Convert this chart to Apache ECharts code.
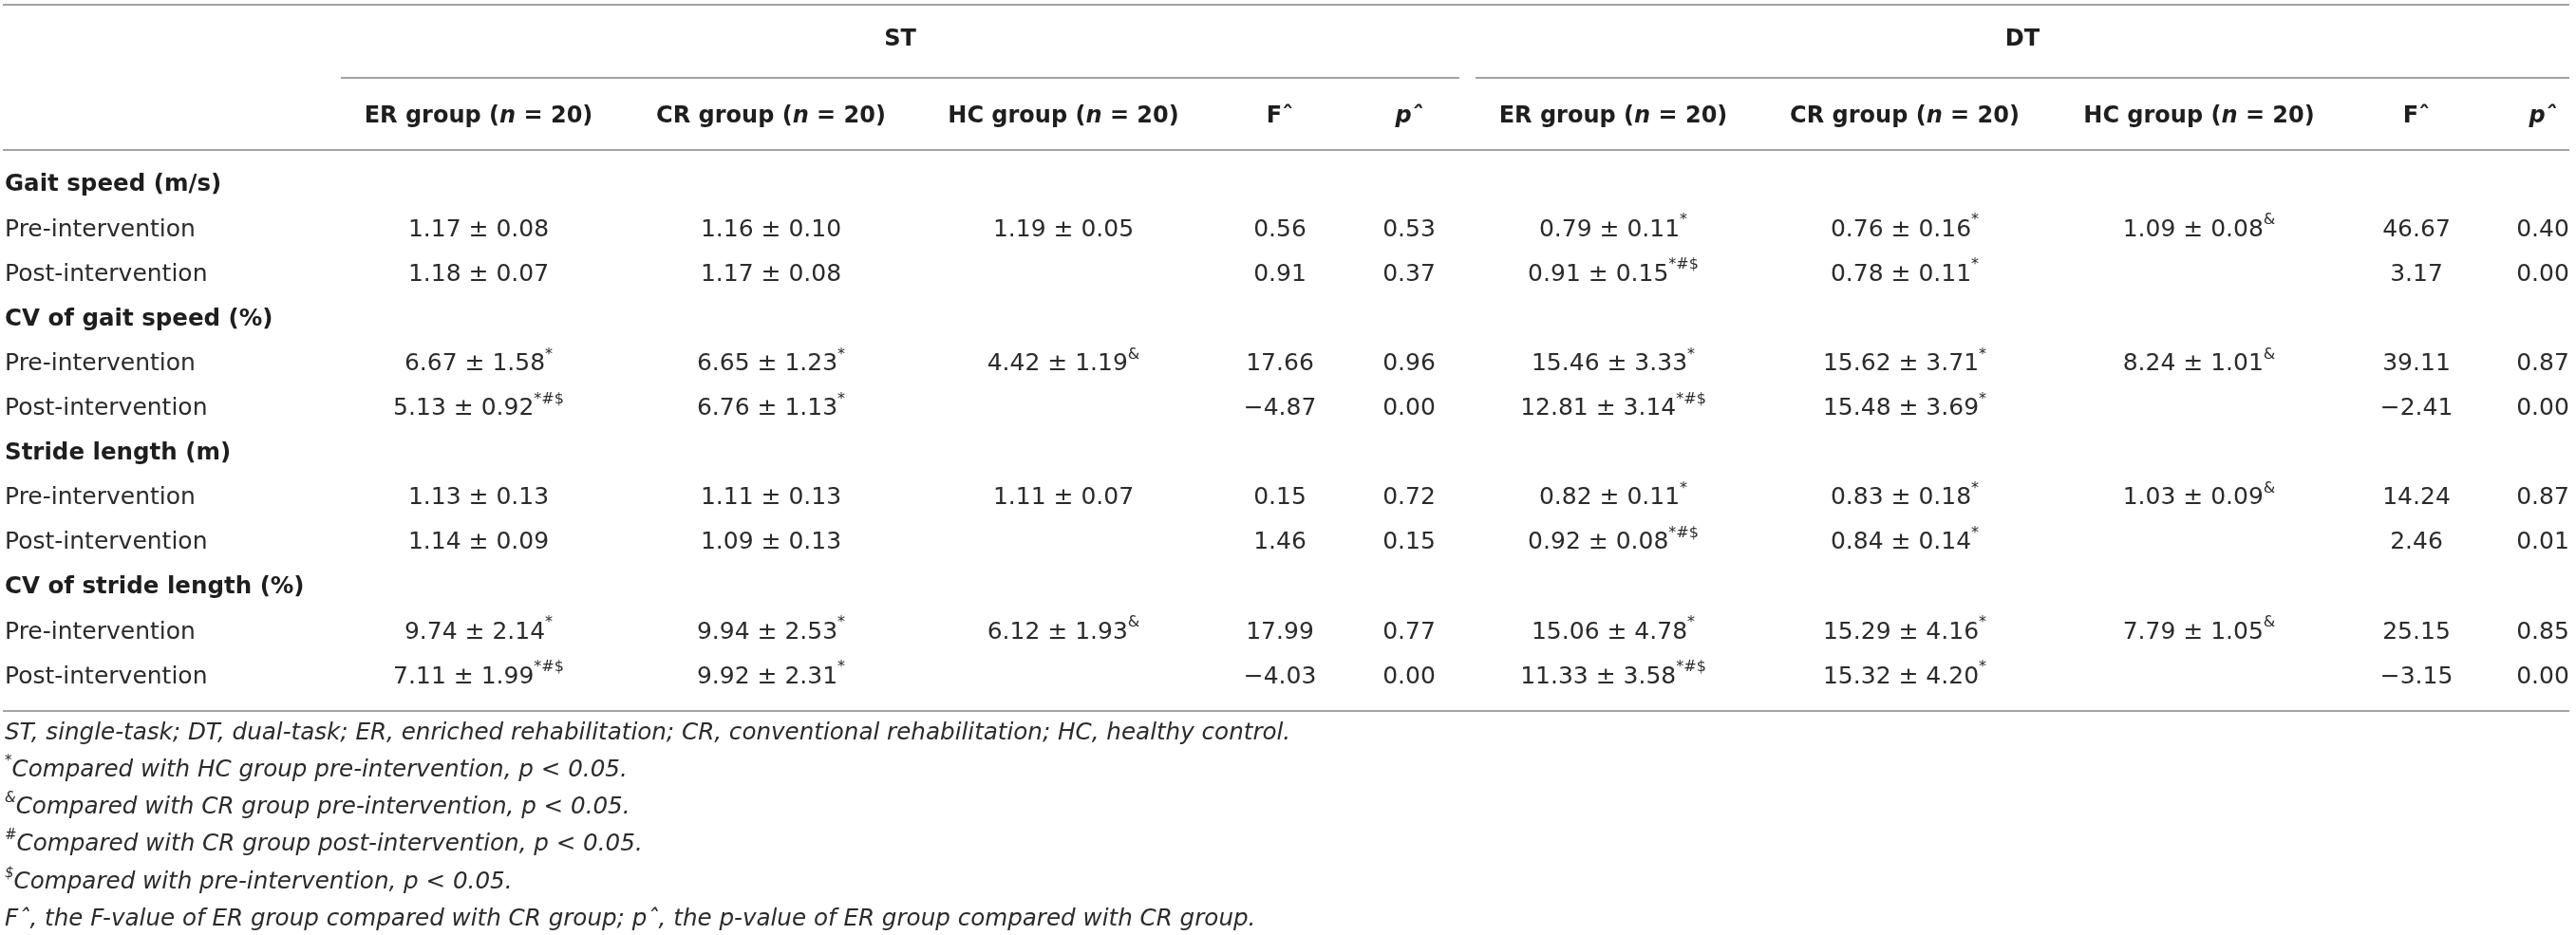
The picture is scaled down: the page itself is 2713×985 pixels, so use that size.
<!DOCTYPE html>
<html>
<head>
<meta charset="utf-8">
<script src="https://cdn.jsdelivr.net/npm/echarts@6/dist/echarts.min.js"></script>
<style>html,body{margin:0;padding:0;background:#fff}#c{width:2713px;height:985px}</style>
</head>
<body>
<div id="c"></div>
<script>
// ---------------- DATA ----------------
const taskGroups = ['ST', 'DT'];
const groupHeads = ['ER group', 'CR group', 'HC group'];
const statHeads = ['F', 'p'];
const measures = ['Gait speed (m/s)', 'CV of gait speed (%)', 'Stride length (m)', 'CV of stride length (%)'];
const phases = ['Pre-intervention', 'Post-intervention'];

// 8 rows: measure x phase (pre, post)
const stER_mean = [1.17, 1.18, 6.67, 5.13, 1.13, 1.14, 9.74, 7.11];
const stER_sd   = [0.08, 0.07, 1.58, 0.92, 0.13, 0.09, 2.14, 1.99];
const stER_sig  = ['', '', '*', '*#$', '', '', '*', '*#$'];
const stCR_mean = [1.16, 1.17, 6.65, 6.76, 1.11, 1.09, 9.94, 9.92];
const stCR_sd   = [0.10, 0.08, 1.23, 1.13, 0.13, 0.13, 2.53, 2.31];
const stCR_sig  = ['', '', '*', '*', '', '', '*', '*'];
const stHC_mean = [1.19, null, 4.42, null, 1.11, null, 6.12, null];
const stHC_sd   = [0.05, null, 1.19, null, 0.07, null, 1.93, null];
const stHC_sig  = ['', '', '&', '', '', '', '&', ''];
const stF = [0.56, 0.91, 17.66, -4.87, 0.15, 1.46, 17.99, -4.03];
const stP = [0.53, 0.37, 0.96, 0.00, 0.72, 0.15, 0.77, 0.00];

const dtER_mean = [0.79, 0.91, 15.46, 12.81, 0.82, 0.92, 15.06, 11.33];
const dtER_sd   = [0.11, 0.15, 3.33, 3.14, 0.11, 0.08, 4.78, 3.58];
const dtER_sig  = ['*', '*#$', '*', '*#$', '*', '*#$', '*', '*#$'];
const dtCR_mean = [0.76, 0.78, 15.62, 15.48, 0.83, 0.84, 15.29, 15.32];
const dtCR_sd   = [0.16, 0.11, 3.71, 3.69, 0.18, 0.14, 4.16, 4.20];
const dtCR_sig  = ['*', '*', '*', '*', '*', '*', '*', '*'];
const dtHC_mean = [1.09, null, 8.24, null, 1.03, null, 7.79, null];
const dtHC_sd   = [0.08, null, 1.01, null, 0.09, null, 1.05, null];
const dtHC_sig  = ['&', '', '&', '', '&', '', '&', ''];
const dtF = [46.67, 3.17, 39.11, -2.41, 14.24, 2.46, 25.15, -3.15];
const dtP = [0.40, 0.00, 0.87, 0.00, 0.87, 0.01, 0.85, 0.00];

const footMarks = ['', '*', '&', '#', '$', ''];
const footTexts = [
  'ST, single-task; DT, dual-task; ER, enriched rehabilitation; CR, conventional rehabilitation; HC, healthy control.',
  'Compared with HC group pre-intervention, p < 0.05.',
  'Compared with CR group pre-intervention, p < 0.05.',
  'Compared with CR group post-intervention, p < 0.05.',
  'Compared with pre-intervention, p < 0.05.',
  'F\u02C6, the F-value of ER group compared with CR group; p\u02C6, the p-value of ER group compared with CR group.'
];

// ---------------- LAYOUT ----------------
const W = 2713, H = 985;
const L = {
  colX: [504, 812, 1120, 1348, 1484, 1699, 2006, 2316, 2545, 2678],
  taskX: [948, 2130],
  labelX: 5,
  taskY: 42, headY: 123,
  firstRowY: 195, rowStep: 47.1,
  footY: 772.5, footStep: 39.2,
  rules: [
    {x1: 3, x2: 2706, y: 5},
    {x1: 359, x2: 1537, y: 82},
    {x1: 1554, x2: 2706, y: 82},
    {x1: 3, x2: 2706, y: 158},
    {x1: 3, x2: 2706, y: 749}
  ]
};
const FONT = '"DejaVu Sans", "Liberation Sans", sans-serif';
const TXT = '#2b2b2b';
const RICH = {
  v:  {fontFamily: FONT, fontSize: 25, lineHeight: 36, fill: TXT},
  s:  {fontFamily: FONT, fontSize: 16, lineHeight: 18, verticalAlign: 'top', fill: TXT},
  l:  {fontFamily: FONT, fontSize: 25, lineHeight: 36, fill: TXT},
  lb: {fontFamily: FONT, fontSize: 24.5, fontWeight: 'bold', lineHeight: 36, fill: '#1e1e1e'},
  hb: {fontFamily: FONT, fontSize: 24, fontWeight: 'bold', lineHeight: 36, fill: '#1e1e1e'},
  hi: {fontFamily: FONT, fontSize: 24, fontWeight: 'bold', fontStyle: 'italic', lineHeight: 36, fill: '#1e1e1e'},
  f:  {fontFamily: FONT, fontSize: 24.6, fontStyle: 'italic', lineHeight: 34, fill: TXT},
  fs: {fontFamily: FONT, fontSize: 15, fontStyle: 'italic', lineHeight: 16, verticalAlign: 'top', fill: TXT}
};

// ---------------- BUILD CELLS ----------------
const fmt = v => (v < 0 ? '\u2212' + Math.abs(v).toFixed(2) : v.toFixed(2));
const esc = s => s.replace(/[{}]/g, '');
const groupCols = [
  {mean: stER_mean, sd: stER_sd, sig: stER_sig},
  {mean: stCR_mean, sd: stCR_sd, sig: stCR_sig},
  {mean: stHC_mean, sd: stHC_sd, sig: stHC_sig},
  {num: stF}, {num: stP},
  {mean: dtER_mean, sd: dtER_sd, sig: dtER_sig},
  {mean: dtCR_mean, sd: dtCR_sd, sig: dtCR_sig},
  {mean: dtHC_mean, sd: dtHC_sd, sig: dtHC_sig},
  {num: dtF}, {num: dtP}
];

const cells = [];
const rowY = r => L.firstRowY + r * L.rowStep;

// task group headers
taskGroups.forEach((t, i) => cells.push({x: L.taskX[i], y: L.taskY, align: 'center', text: '{hb|' + t + '}'}));
// column headers
taskGroups.forEach((t, g) => {
  groupHeads.forEach((h, j) => cells.push({
    x: L.colX[g * 5 + j], y: L.headY, align: 'center',
    text: '{hb|' + h + ' (}{hi|n}{hb| = 20)}'
  }));
  cells.push({x: L.colX[g * 5 + 3], y: L.headY, align: 'center', text: '{hb|' + statHeads[0] + '\u02C6}'});
  cells.push({x: L.colX[g * 5 + 4], y: L.headY, align: 'center', text: '{hi|' + statHeads[1] + '\u02C6}'});
});
// row labels + values
measures.forEach((m, mi) => {
  cells.push({x: L.labelX, y: rowY(mi * 3), align: 'left', text: '{lb|' + esc(m) + '}'});
  phases.forEach((ph, pi) => {
    const r = mi * 3 + 1 + pi;
    const di = mi * 2 + pi;
    cells.push({x: L.labelX, y: rowY(r), align: 'left', text: '{l|' + ph + '}'});
    groupCols.forEach((c, ci) => {
      let t = null;
      if (c.num) {
        t = '{v|' + fmt(c.num[di]) + '}';
      } else if (c.mean[di] != null) {
        t = '{v|' + c.mean[di].toFixed(2) + ' \u00B1 ' + c.sd[di].toFixed(2) + '}';
        if (c.sig[di]) t += '{s|' + c.sig[di] + '}';
      }
      if (t) cells.push({x: L.colX[ci], y: rowY(r), align: 'center', text: t});
    });
  });
});
// footnotes
footTexts.forEach((ft, i) => {
  let t = footMarks[i] ? '{fs|' + footMarks[i] + '}' : '';
  t += '{f|' + ft + '}';
  cells.push({x: L.labelX, y: L.footY + i * L.footStep, align: 'left', text: t});
});

const chart = echarts.init(document.getElementById('c'));
chart.setOption({
  animation: false,
  backgroundColor: '#ffffff',
  grid: {left: 0, right: 0, top: 0, bottom: 0},
  xAxis: {type: 'value', min: 0, max: W, show: false},
  yAxis: {type: 'value', min: 0, max: H, inverse: true, show: false},
  series: [
    {
      type: 'custom',
      clip: false,
      data: L.rules.map(r => [r.x1, r.y, r.x2, r.y]),
      renderItem: (params, api) => {
        const p1 = api.coord([api.value(0), api.value(1)]);
        const p2 = api.coord([api.value(2), api.value(3)]);
        return {type: 'line', shape: {x1: p1[0], y1: p1[1], x2: p2[0], y2: p2[1]},
                style: {stroke: '#a3a3a3', lineWidth: 2}};
      }
    },
    {
      type: 'custom',
      clip: false,
      data: cells.map(c => [c.x, c.y]),
      renderItem: (params, api) => {
        const c = cells[params.dataIndex];
        const p = api.coord([api.value(0), api.value(1)]);
        return {type: 'text', x: p[0], y: p[1],
                style: {text: c.text, rich: RICH, align: c.align, verticalAlign: 'middle'}};
      }
    }
  ]
});
</script>
</body>
</html>
